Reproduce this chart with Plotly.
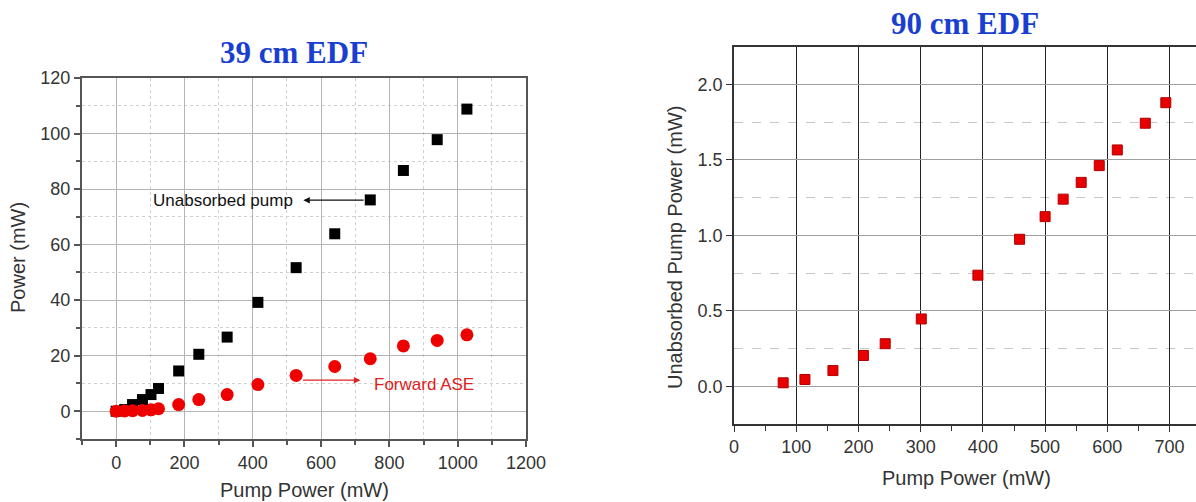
import plotly.graph_objects as go

# ---- Left chart: 39 cm EDF ----
pump_39 = [0, 25, 48, 77, 102, 124, 183, 242, 325, 415, 527, 640, 744, 841, 940, 1027]
unabsorbed_39 = [0, 0.6, 2.4, 4.2, 6.0, 8.2, 14.5, 20.5, 26.7, 39.2, 51.7, 63.9, 76.1, 86.7, 97.8, 108.8]
ase_39 = [0, 0.1, 0.2, 0.3, 0.5, 0.9, 2.4, 4.2, 6.0, 9.6, 12.9, 16.1, 18.9, 23.5, 25.5, 27.5]

# ---- Right chart: 90 cm EDF ----
pump_90 = [79, 114, 159, 208, 243, 301, 392, 459, 500, 529, 558, 587, 616, 661, 694]
unabsorbed_90 = [0.023, 0.045, 0.104, 0.204, 0.282, 0.446, 0.736, 0.974, 1.124,
                 1.240, 1.351, 1.462, 1.566, 1.743, 1.879]

W, H = 1196, 502
def px(x):
    return x / W
def py(y):
    return 1 - y / H

fig = go.Figure()

fig.add_trace(go.Scatter(x=pump_39, y=unabsorbed_39, mode="markers",
                         marker=dict(symbol="square", size=11, color="black"),
                         xaxis="x", yaxis="y", showlegend=False))
fig.add_trace(go.Scatter(x=pump_39, y=ase_39, mode="markers",
                         marker=dict(symbol="circle", size=13, color="#ee0000"),
                         xaxis="x", yaxis="y", showlegend=False))
fig.add_trace(go.Scatter(x=pump_90, y=unabsorbed_90, mode="markers",
                         marker=dict(symbol="square", size=10, color="#e80000",
                                     line=dict(color="#b00000", width=1)),
                         xaxis="x2", yaxis="y2", showlegend=False))

tickfont = dict(family="Liberation Sans, Arial", size=18, color="#333")

fig.update_layout(
    width=W, height=H,
    margin=dict(l=0, r=0, t=0, b=0),
    paper_bgcolor="white", plot_bgcolor="white",
    xaxis=dict(domain=[px(82), px(526)], range=[-100, 1200], dtick=200, tick0=0,
               automargin=False,
               showgrid=True, gridcolor="#b4b4b4", gridwidth=1,
               zeroline=False, showline=True, linecolor="#555", linewidth=2, mirror=True,
               ticks="outside", ticklen=6, tickcolor="#555", tickwidth=1.5,
               tickfont=tickfont,
               minor=dict(dtick=100, tick0=0, showgrid=True, gridcolor="#d0d0d0",
                          griddash="dot", gridwidth=1, ticks="outside", ticklen=4,
                          tickcolor="#555")),
    yaxis=dict(domain=[py(439), py(78)], range=[-10, 120], dtick=20, tick0=0,
               automargin=False,
               showgrid=True, gridcolor="#b4b4b4", gridwidth=1,
               zeroline=False, showline=True, linecolor="#555", linewidth=2, mirror=True,
               ticks="outside", ticklen=6, tickcolor="#555", tickwidth=1.5,
               tickfont=tickfont,
               minor=dict(dtick=10, tick0=0, showgrid=True, gridcolor="#d0d0d0",
                          griddash="dot", gridwidth=1, ticks="outside", ticklen=4,
                          tickcolor="#555")),
    xaxis2=dict(domain=[px(734), 1.0], range=[0, 742.5], dtick=100, tick0=0,
                anchor="y2", automargin=False,
                showgrid=True, gridcolor="#222", gridwidth=1.3,
                zeroline=False, showline=True, linecolor="#333", linewidth=1.5, mirror=True,
                ticks="outside", ticklen=6, tickcolor="#333",
                tickfont=tickfont,
                minor=dict(dtick=50, tick0=0, showgrid=False, ticks="outside",
                           ticklen=5, tickcolor="#333")),
    yaxis2=dict(domain=[py(424), py(46.7)], range=[-0.25, 2.25], dtick=0.5, tick0=0,
                anchor="x2", tickformat=".1f", automargin=False,
                showgrid=True, gridcolor="#a0a0a0", gridwidth=1,
                zeroline=False, showline=True, linecolor="#333", linewidth=1.5, mirror=False,
                ticks="outside", ticklen=6, tickcolor="#333",
                tickfont=tickfont,
                minor=dict(dtick=0.25, tick0=0, showgrid=True, gridcolor="#c8c8c8",
                           griddash="dash", gridwidth=1, ticks="")),
)

ann = []
# Titles
ann.append(dict(text="<b>39 cm EDF</b>", x=px(294), y=py(52), xref="paper", yref="paper",
                showarrow=False, xanchor="center", yanchor="middle",
                font=dict(family="Liberation Serif, Times New Roman", size=31, color="#1a3fd0")))
ann.append(dict(text="<b>90 cm EDF</b>", x=px(965), y=py(24), xref="paper", yref="paper",
                showarrow=False, xanchor="center", yanchor="middle",
                font=dict(family="Liberation Serif, Times New Roman", size=31, color="#1a3fd0")))
# Axis titles
axfont = dict(family="Liberation Sans, Arial", size=20, color="#333")
ann.append(dict(text="Power (mW)", x=px(18), y=py(258), xref="paper", yref="paper",
                showarrow=False, textangle=-90, xanchor="center", yanchor="middle", font=axfont))
ann.append(dict(text="Pump Power (mW)", x=px(304), y=py(490), xref="paper", yref="paper",
                showarrow=False, xanchor="center", yanchor="middle", font=axfont))
ann.append(dict(text="Unabsorbed Pump Power (mW)", x=px(675), y=py(248), xref="paper", yref="paper",
                showarrow=False, textangle=-90, xanchor="center", yanchor="middle", font=axfont))
ann.append(dict(text="Pump Power (mW)", x=px(966), y=py(478), xref="paper", yref="paper",
                showarrow=False, xanchor="center", yanchor="middle", font=axfont))
# In-plot labels with arrows
ann.append(dict(text="Unabsorbed pump", x=524, y=76, xref="x", yref="y", showarrow=False,
                xanchor="right", yanchor="middle",
                font=dict(family="Liberation Sans, Arial", size=17, color="#111")))
ann.append(dict(text="", x=548, y=76, ax=729, ay=76, xref="x", yref="y", axref="x", ayref="y",
                showarrow=True, arrowhead=2, arrowsize=1, arrowwidth=1.3, arrowcolor="#111"))
ann.append(dict(text="Forward ASE", x=749, y=9.6, xref="x", yref="y", showarrow=False,
                xanchor="left", yanchor="middle",
                font=dict(family="Liberation Sans, Arial", size=17, color="#e02020")))
ann.append(dict(text="", x=715, y=11.2, ax=543, ay=11.2, xref="x", yref="y", axref="x", ayref="y",
                showarrow=True, arrowhead=2, arrowsize=1, arrowwidth=1.3, arrowcolor="#e02020"))

fig.update_layout(annotations=ann)
fig.write_html("out.html")
